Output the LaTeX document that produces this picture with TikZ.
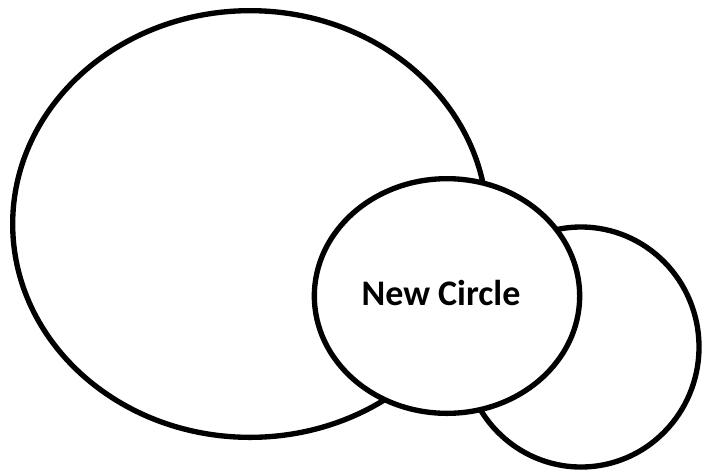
\documentclass[tikz,border=0pt]{standalone}
\usepackage{fontspec}
\setmainfont{Carlito}
\usetikzlibrary{shapes.geometric}

\begin{document}
\begin{tikzpicture}[x=0.75pt,y=-0.75pt,
  blob/.style={ellipse,draw=black,fill=white,line width=4pt,inner sep=0pt}]
\useasboundingbox (0,0) rectangle (702,472);
\node[blob,minimum width=356pt,minimum height=320pt] (oldcircle) at (250,224) {};
\node[blob,minimum width=177pt,minimum height=180pt] (rightcircle) at (581,347) {};
\node[blob,minimum width=199pt,minimum height=176pt] (newcircle) at (447,296) {};
\node[font=\fontsize{27}{32}\selectfont\bfseries] (newlabel) at (441,293) {New Circle};
\end{tikzpicture}
\end{document}
